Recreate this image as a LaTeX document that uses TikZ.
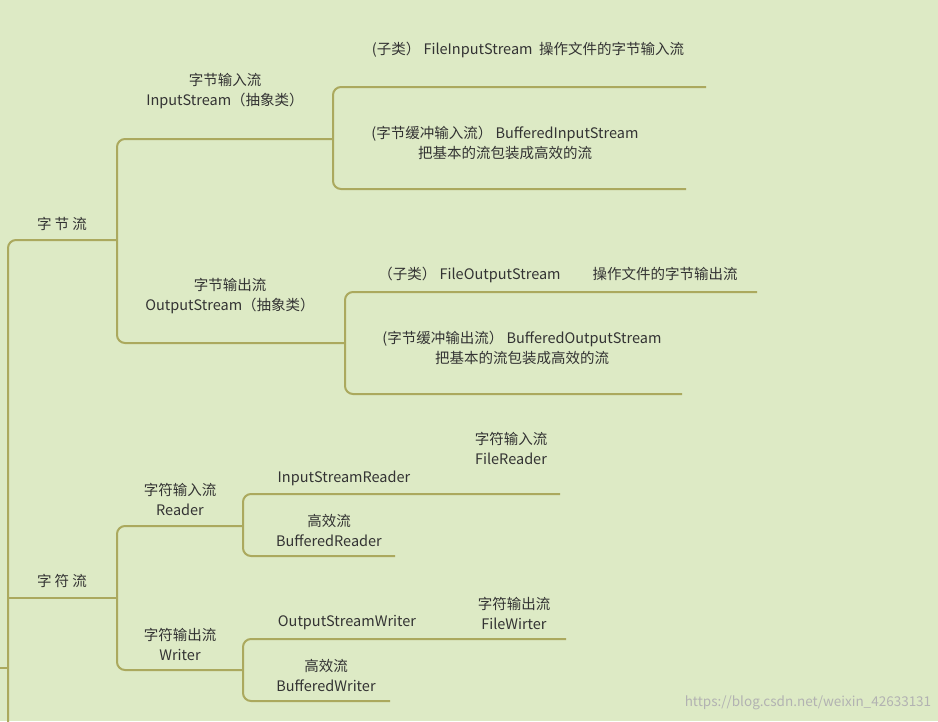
\documentclass[tikz,border=0pt]{standalone}
\usepackage{fontspec}
\setmainfont{Noto Sans CJK SC}
\begin{document}
\begin{tikzpicture}[x=1pt,y=-1pt,
  br/.style={draw=lineol,line width=2pt,rounded corners=8pt},
  lbl/.style={text=txt,font=\fontsize{14.5}{20}\selectfont,align=center,inner sep=0pt}]
\definecolor{bgc}{HTML}{DDEAC5}
\definecolor{lineol}{HTML}{ABA95E}
\definecolor{txt}{HTML}{333333}
\fill[bgc] (0,0) rectangle (938,721);
\useasboundingbox (0,0) rectangle (938,721);
% main
\draw[br] (117,240) -- (8,240) -- (8,740);
\draw[br] (8,598) -- (117,598);
\draw[br,rounded corners=0pt] (0,668) -- (8,668);
% byte
\draw[br] (333,139) -- (117,139) -- (117,343) -- (345,343);
% input
\draw[br] (706,87) -- (333,87) -- (333,189) -- (686,189);
% output
\draw[br] (757,292) -- (345,292) -- (345,394) -- (682,394);
% char
\draw[br] (243,526) -- (117,526) -- (117,670) -- (243,670);
\draw[br] (560,494) -- (243,494) -- (243,556) -- (395,556);
\draw[br] (566,639) -- (243,639) -- (243,701) -- (390,701);
\node[lbl] (zjl) at (62,224) {字 节 流};
\node[lbl] (zfl) at (62,581) {字 符 流};
\node[lbl] (in) at (225,91) {字节输入流\\InputStream（抽象类）};
\node[lbl] (out) at (230,296) {字节输出流\\OutputStream（抽象类）};
\node[lbl] (fis) at (528,50) {(子类）\ FileInputStream\ \ 操作文件的字节输入流};
\node[lbl] (bis) at (505,143) {(字节缓冲输入流）\ BufferedInputStream\\把基本的流包装成高效的流};
\node[lbl] (fos) at (558,275) {（子类）\ FileOutputStream\hspace{32pt}操作文件的字节输出流};
\node[lbl] (bos) at (522,348) {(字节缓冲输出流）\ BufferedOutputStream\\把基本的流包装成高效的流};
\node[lbl] (rd) at (180,499) {字符输入流\\Reader};
\node[lbl] (wr) at (180,644) {字符输出流\\Writer};
\node[lbl] (isr) at (344,478) {InputStreamReader};
\node[lbl] (fr) at (511,448) {字符输入流\\FileReader};
\node[lbl] (brd) at (329,530) {高效流\\BufferedReader};
\node[lbl] (osw) at (347,623) {OutputStreamWriter};
\node[lbl] (fw) at (514,613) {字符输出流\\FileWirter};
\node[lbl] (bw) at (326,675) {高效流\\BufferedWriter};
\node[text=gray!60,font=\fontsize{13.5}{16}\selectfont,inner sep=0pt] (wm) at (808,703) {https://blog.csdn.net/weixin\_42633131};
\end{tikzpicture}
\end{document}
